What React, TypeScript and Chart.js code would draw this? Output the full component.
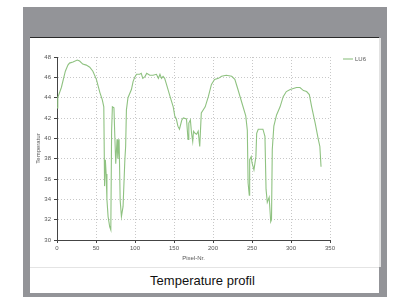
import React, { useEffect, useRef } from "react";
import { Chart, registerables } from "chart.js";

Chart.register(...registerables);

const seriesName = "LU6";
const pixelNr = [0, 1, 5.6, 10.7, 14, 16, 20.5, 26, 29, 33, 37.6, 42, 46, 50.5, 55, 58, 60, 61, 62, 63, 64, 65.5, 67.6, 69, 70, 71, 73, 74, 75.3, 77, 78, 79.6, 81, 82.6, 84.7, 87, 88, 89, 91, 95.4, 97.6, 99.7, 102, 106, 108, 110, 113, 115, 119, 123, 127.5, 130, 132, 134, 136, 138, 140, 145, 149, 151, 153, 155, 157, 160, 162, 166, 168, 169, 171, 172.5, 174, 175, 177, 179, 181, 183, 185, 190, 194, 198, 202, 207, 211, 217, 224, 228, 232, 237, 242, 244, 245, 246.5, 247, 249, 250, 252.5, 255, 256, 258, 264, 266.6, 268, 269.6, 272, 274, 275, 276, 278, 281.5, 286, 290, 294, 299, 303, 307, 311.5, 316, 320, 323.5, 326.5, 331, 335, 337, 338.5];
const temperature = [43.0, 44.0, 45.0, 46.6, 47.2, 47.4, 47.5, 47.7, 47.6, 47.3, 47.2, 47.0, 46.6, 45.8, 44.5, 43.8, 43.1, 35.3, 37.9, 36.5, 34.0, 32.3, 31.3, 31.0, 40.7, 43.1, 43.0, 40.5, 37.5, 39.9, 38.0, 39.9, 33.9, 32.3, 33.3, 37.9, 39.2, 42.8, 44.0, 44.8, 45.6, 46.0, 46.3, 46.3, 46.4, 45.9, 46.1, 46.4, 46.2, 46.2, 46.3, 45.9, 46.3, 45.9, 46.1, 45.9, 45.4, 44.1, 43.1, 42.2, 41.9, 41.2, 40.9, 41.8, 42.0, 41.9, 39.9, 41.5, 41.8, 40.5, 39.7, 40.7, 40.5, 40.4, 40.7, 39.2, 42.5, 43.1, 44.1, 45.3, 45.8, 45.9, 46.1, 46.2, 46.1, 45.8, 44.8, 43.5, 42.2, 40.8, 35.6, 34.4, 37.9, 38.2, 37.6, 36.9, 38.2, 40.5, 40.9, 40.9, 40.2, 35.0, 33.7, 34.2, 31.8, 32.0, 38.9, 41.2, 42.3, 43.1, 44.1, 44.6, 44.8, 44.9, 45.0, 45.0, 44.7, 44.6, 44.3, 43.1, 41.5, 39.9, 39.2, 37.2];
const yMin = 30;
const yMax = 48;
const yStep = 2;
const xMin = 0;
const xMax = 350;
const xStep = 50;
const xTitle = "Pixel-Nr.";
const yTitle = "Temperatur";
const caption = "Temperature profil";

const LINE_COLOR = "#8fc281";
const TEXT_COLOR = "#555";
const FONT = "'Liberation Sans', Arial, sans-serif";

const legendPlugin = {
  id: "customLegend",
  afterDraw(chart: any) {
    const ctx = chart.ctx;
    const x0 = chart.chartArea.right + 13;
    const y0 = chart.chartArea.top + 2;
    ctx.save();
    ctx.strokeStyle = LINE_COLOR;
    ctx.lineWidth = 1.1;
    ctx.beginPath();
    ctx.moveTo(x0, y0);
    ctx.lineTo(x0 + 10, y0);
    ctx.stroke();
    ctx.fillStyle = TEXT_COLOR;
    ctx.font = "6px " + FONT;
    ctx.textBaseline = "middle";
    ctx.fillText(seriesName, x0 + 12, y0);
    ctx.restore();
  },
};

export default function App() {
  const ref = useRef<HTMLCanvasElement>(null);
  useEffect(() => {
    if (!ref.current) return;
    const points = pixelNr.map((x, i) => ({ x, y: temperature[i] }));
    const gridOpts: any = {
      color: "#c8c8c8",
      tickColor: "#444",
      tickLength: 3,
      lineWidth: 1,
    };
    const chart = new Chart(ref.current, {
      type: "line",
      data: {
        datasets: [
          {
            label: seriesName,
            data: points,
            borderColor: LINE_COLOR,
            borderWidth: 1.1,
            pointRadius: 0,
            tension: 0,
            fill: false,
          },
        ],
      },
      options: {
        animation: false,
        responsive: false,
        maintainAspectRatio: false,
        layout: { padding: { left: 0, top: 19, right: 49, bottom: 3 } },
        plugins: { legend: { display: false }, tooltip: { enabled: false } },
        scales: {
          x: {
            type: "linear",
            min: xMin,
            max: xMax,
            afterFit: (s: any) => {
              s.height = 24;
            },
            ticks: { stepSize: xStep, color: TEXT_COLOR, font: { size: 6, family: FONT }, padding: 2, maxRotation: 0 },
            grid: gridOpts,
            border: { color: "#444", width: 1, dash: [1, 2] } as any,
            title: { display: true, text: xTitle, color: TEXT_COLOR, font: { size: 6, family: FONT }, padding: { top: 0, bottom: 2 } },
          },
          y: {
            type: "linear",
            min: yMin,
            max: yMax,
            afterFit: (s: any) => {
              s.width = 27;
            },
            ticks: { stepSize: yStep, color: TEXT_COLOR, font: { size: 6, family: FONT }, padding: 3 },
            grid: gridOpts,
            border: { color: "#444", width: 1, dash: [1, 2] } as any,
            title: { display: true, text: yTitle, color: TEXT_COLOR, font: { size: 6, family: FONT }, padding: { top: 5, bottom: 0 } },
          },
        },
      },
      plugins: [legendPlugin],
    });
    return () => chart.destroy();
  }, []);

  return (
    <div style={{ position: "fixed", left: 0, top: 0, width: 398, height: 297, background: "#fff", overflow: "hidden" }}>
      <div style={{ position: "absolute", left: 23, top: 7, width: 364, height: 290, background: "#939498" }} />
      <div style={{ position: "absolute", left: 30, top: 37, width: 349, height: 1, background: "#2a2a2a" }} />
      <div style={{ position: "absolute", left: 30, top: 38, width: 349, height: 229, background: "#fff", borderRight: "2px solid #e2e2e2" }}>
        <canvas ref={ref} width={349} height={229} style={{ display: "block", width: 349, height: 229 }} />
      </div>
      <div style={{ position: "absolute", left: 30, top: 267, width: 349, height: 1, background: "#e4e4e4" }} />
      <div
        style={{
          position: "absolute",
          left: 30,
          top: 268,
          width: 349,
          height: 25,
          background: "#fff",
          fontFamily: FONT,
          fontSize: 13,
          color: "#111",
          display: "flex",
          alignItems: "center",
          justifyContent: "center",
          paddingRight: 4,
          boxSizing: "border-box",
        }}
      >
        {caption}
      </div>
    </div>
  );
}
